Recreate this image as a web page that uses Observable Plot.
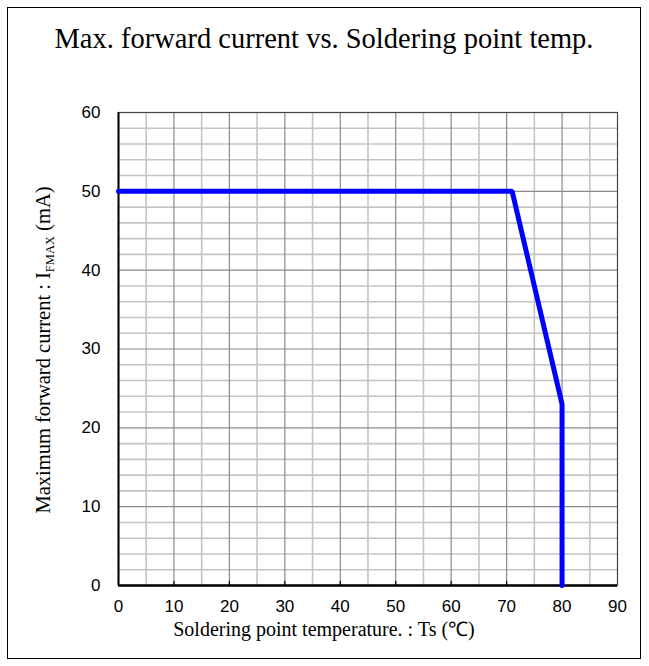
<!DOCTYPE html>
<html><head><meta charset="utf-8">
<script src="https://cdn.jsdelivr.net/npm/d3@7"></script>
<script src="https://cdn.jsdelivr.net/npm/@observablehq/plot@0.6"></script>
<style>
html,body{margin:0;padding:0;background:#fff;}
#wrap{position:relative;width:649px;height:666px;}
#border{position:absolute;left:7px;top:7px;width:634px;height:652px;border:1.5px solid #000;box-sizing:border-box;}
#chart{position:absolute;left:0;top:0;}
</style></head>
<body>
<div id="wrap"><div id="border"></div><div id="chart"></div></div>
<script>
const temps = [0, 71, 80, 80];
const currents = [50, 50, 23, 0];
const xTicks = [0,10,20,30,40,50,60,70,80,90];
const yTicks = [0,10,20,30,40,50,60];
const xMinor = [5,15,25,35,45,55,65,75,85];
const yMinor = [2,4,6,8,12,14,16,18,22,24,26,28,32,34,36,38,42,44,46,48,52,54,56,58];
const xMajorInner = [10,20,30,40,50,60,70,80];
const yMajorInner = [10,20,30,40,50];
const titleText = "Max. forward current vs. Soldering point temp.";
const xLabel = "Soldering point temperature. : Ts (\u2103)";

const data = temps.map((t,i)=>({t, c: currents[i]}));

const plot = Plot.plot({
  width: 649, height: 666,
  marginLeft: 118, marginRight: 32, marginTop: 112, marginBottom: 81,
  style: {fontFamily: "'Liberation Sans', Arial, sans-serif", fontSize: "17px", background: "transparent", overflow: "visible"},
  x: {domain: [0, 90], ticks: xTicks, label: null, tickSize: 0, tickPadding: 14},
  y: {domain: [0, 60], ticks: yTicks, label: null, tickSize: 0, tickPadding: 18},
  marks: [
    Plot.ruleX(xMinor, {stroke: "#c4c4c4", strokeWidth: 1.6}),
    Plot.ruleY(yMinor, {stroke: "#c4c4c4", strokeWidth: 1.6}),
    Plot.ruleX(xMajorInner, {stroke: "#8a8a8a", strokeWidth: 1.2}),
    Plot.ruleY(yMajorInner, {stroke: "#8a8a8a", strokeWidth: 1.2}),
    Plot.ruleX(xMajorInner, {y1: 0, y2: 0.5, stroke: "#000", strokeWidth: 1.2}),
    Plot.frame({stroke: "#444", strokeWidth: 1.2}),
    Plot.ruleX([0], {stroke: "#000", strokeWidth: 2}),
    Plot.ruleY([0], {stroke: "#000", strokeWidth: 2.5}),
    Plot.line(data, {x: "t", y: "c", stroke: "#0000ff", strokeWidth: 5, strokeLinejoin: "miter"}),
    Plot.axisX({ticks: xTicks, tickSize: 0, tickPadding: 14, fill: "#000"}),
    Plot.axisY({ticks: yTicks, tickSize: 0, tickPadding: 18, fill: "#000"})
  ]
});
document.getElementById("chart").appendChild(plot);

const svg = d3.select(plot);
const serif = "'Liberation Serif','Times New Roman',serif";
svg.append("text")
  .attr("x", 324).attr("y", 48)
  .attr("text-anchor", "middle")
  .attr("font-family", serif).attr("font-size", 28.5).attr("fill", "#000")
  .text(titleText);
svg.append("text")
  .attr("x", 324).attr("y", 636)
  .attr("text-anchor", "middle")
  .attr("font-family", serif).attr("font-size", 20).attr("fill", "#000")
  .text(xLabel);
const yl = svg.append("text")
  .attr("transform", "translate(50,350) rotate(-90)")
  .attr("text-anchor", "middle")
  .attr("font-family", serif).attr("font-size", 20.5).attr("fill", "#000");
yl.append("tspan").text("Maximum forward current : I");
yl.append("tspan").attr("font-size", 12.5).attr("dy", 4).text("FMAX");
yl.append("tspan").attr("dy", -4).text(" (mA)");
</script>
</body></html>
